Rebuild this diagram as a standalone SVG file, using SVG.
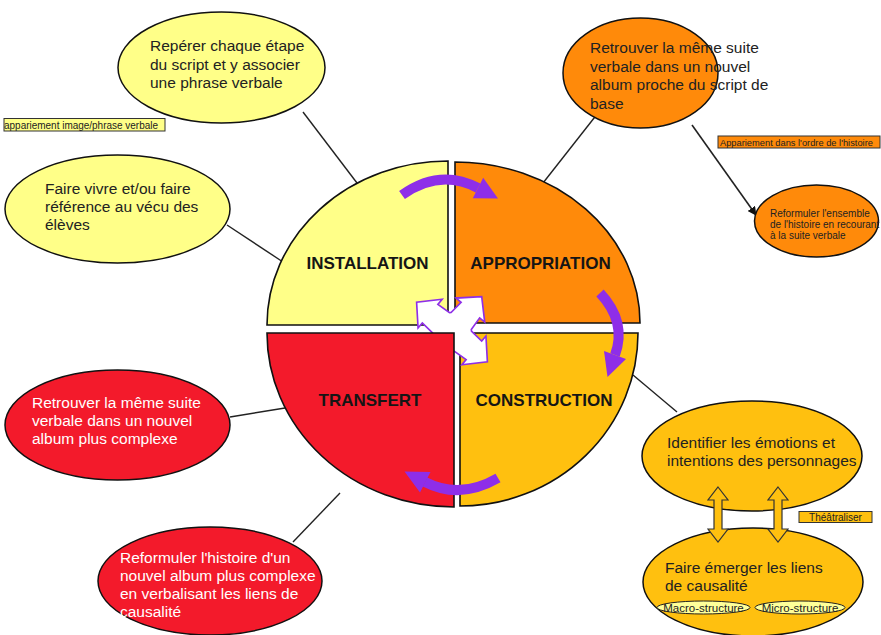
<svg xmlns="http://www.w3.org/2000/svg" width="881" height="635" viewBox="0 0 881 635">
<defs>
<style>
text{font-family:"Liberation Sans",Arial,sans-serif}
.q{stroke:#111;stroke-width:1.6}
.el{stroke:#111;stroke-width:1.5}
.yl{fill:#ffff88}
.or{fill:#ff8a0a}
.rd{fill:#f31a2b}
.ye{fill:#ffc00f}
.t{font-size:15.5px;fill:#222}
.tw{font-size:15.5px;fill:#fff}
.ql{font-size:17px;font-weight:bold;fill:#151515;text-anchor:middle}
.sm{font-size:10px;fill:#222}
.con{stroke:#222;stroke-width:1.4;fill:none}
.pa{stroke:#8e2ee8;stroke-width:10;fill:none}
.ph{fill:#8e2ee8}
</style>
<marker id="ah" viewBox="0 0 10 10" refX="9" refY="5" markerWidth="9" markerHeight="9" markerUnits="userSpaceOnUse" orient="auto">
<path d="M0,0 L10,5 L0,10 Z" fill="#111"/>
</marker>
</defs>
<rect width="881" height="635" fill="#fff"/>

<g id="connectors">
<line class="con" x1="303" y1="112" x2="357" y2="183"/>
<line class="con" x1="227" y1="225" x2="283" y2="262"/>
<line class="con" x1="598" y1="113" x2="543" y2="183"/>
<line class="con" x1="692" y1="125" x2="756" y2="215" marker-end="url(#ah)" style="stroke-width:1.6"/>
<line class="con" x1="633" y1="375" x2="677" y2="412"/>
<line class="con" x1="230" y1="417" x2="285" y2="408"/>
<line class="con" x1="293" y1="542" x2="340" y2="493"/>
</g>

<g id="installation">
<path class="q yl" d="M448,325 L267,325 A181,164 0 0 1 448,161 Z"/>
<text class="ql" x="367.5" y="269">INSTALLATION</text>
</g>
<g id="appropriation">
<path class="q or" d="M455,323 L455,162 A185,161 0 0 1 640,323 Z"/>
<text class="ql" x="540.5" y="269">APPROPRIATION</text>
</g>
<g id="construction">
<path class="q ye" d="M460,333 L638,333 A178,173 0 0 1 460,506 Z"/>
<text class="ql" x="544" y="406">CONSTRUCTION</text>
</g>
<g id="center-arrows">
<path transform="translate(452,332) rotate(40) scale(1.1)" fill="#fff" stroke="#8e2ee8" stroke-width="1.5" d="M13,-12 L26,-11 L26,-17 L42,0 L26,17 L26,11 L13,12 L12,13 L11,26 L17,26 L0,42 L-17,26 L-11,26 L-12,13 L-13,12 L-26,11 L-26,17 L-42,0 L-26,-17 L-26,-11 L-13,-12 L-12,-13 L-11,-26 L-17,-26 L0,-42 L17,-26 L11,-26 L12,-13 Z"/>
</g>
<g id="transfert">
<path class="q rd" d="M454,333 L454,507 A187,174 0 0 1 267,333 Z"/>
<text class="ql" x="370" y="406">TRANSFERT</text>
</g>

<g id="cycle-arrows">
<path class="pa" d="M402,195 Q440,168 478,188"/>
<polygon class="ph" points="472.8,198.2 483.2,177.8 498,198.5"/>
<path class="pa" d="M600,293 Q627,322 615,355"/>
<polygon class="ph" points="626,359 604,351 607.5,377"/>
<path class="pa" d="M498,478 Q460,500 425,482"/>
<polygon class="ph" points="430.5,472 420,492.5 404.5,471.5"/>
</g>

<g id="reperer">
<ellipse class="el yl" cx="221.5" cy="67.5" rx="103.5" ry="55.5"/>
<text class="t" x="150" y="51">Repérer chaque étape</text>
<text class="t" x="150" y="69.5">du script et y associer</text>
<text class="t" x="150" y="88">une phrase verbale</text>
</g>
<g id="label-appariement-image">
<rect x="4" y="118.5" width="161" height="12.5" fill="#ffff88" stroke="#333" stroke-width="1"/>
<text class="sm" x="4" y="128.5" textLength="154" lengthAdjust="spacingAndGlyphs">appariement image/phrase verbale</text>
</g>
<g id="faire-vivre">
<ellipse class="el yl" cx="117.5" cy="209" rx="112.5" ry="54"/>
<text class="t" x="45" y="193.5">Faire vivre et/ou faire</text>
<text class="t" x="45" y="211.5">référence au vécu des</text>
<text class="t" x="45" y="229.5">élèves</text>
</g>
<g id="retrouver-base">
<ellipse class="el or" cx="640.5" cy="73" rx="77.5" ry="55"/>
<text class="t" x="590" y="53">Retrouver la même suite</text>
<text class="t" x="590" y="71.5">verbale dans un nouvel</text>
<text class="t" x="590" y="90">album proche du script de</text>
<text class="t" x="590" y="108.5">base</text>
</g>
<g id="label-appariement-ordre">
<rect x="718" y="136" width="162" height="12" fill="#ff8a0a" stroke="#333" stroke-width="1"/>
<text x="720" y="145.5" font-size="9.3" fill="#222">Appariement dans l'ordre de l'histoire</text>
</g>
<g id="reformuler-ensemble">
<ellipse class="el or" cx="816.5" cy="221" rx="62" ry="36"/>
<text class="sm" x="770" y="217">Reformuler l'ensemble</text>
<text class="sm" x="770" y="228">de l'histoire en recourant</text>
<text class="sm" x="770" y="239">à la suite verbale</text>
</g>
<g id="identifier">
<ellipse class="el ye" cx="752" cy="456" rx="110" ry="55"/>
<text class="t" x="667" y="447.5">Identifier les émotions et</text>
<text class="t" x="667" y="465.5">intentions des personnages</text>
</g>
<g id="faire-emerger">
<ellipse class="el ye" cx="753" cy="582" rx="110" ry="54"/>
<text class="t" x="665" y="572.5">Faire émerger les liens</text>
<text class="t" x="665" y="590.5">de causalité</text>
<g id="macro">
<ellipse cx="703.5" cy="607.5" rx="46.5" ry="6.5" fill="#ffff99" stroke="#222" stroke-width="1"/>
<text x="703.5" y="611.5" font-size="11.5" fill="#222" text-anchor="middle">Macro-structure</text>
</g>
<g id="micro">
<ellipse cx="800" cy="607.5" rx="45" ry="6.5" fill="#ffff99" stroke="#222" stroke-width="1"/>
<text x="800" y="611.5" font-size="11.5" fill="#222" text-anchor="middle">Micro-structure</text>
</g>
</g>
<g id="double-arrows">
<path fill="#ffc00f" stroke="#333" stroke-width="1.2" d="M718,487 L728,500 L722,500 L722,529 L728,529 L718,542 L708,529 L714,529 L714,500 L708,500 Z"/>
<path fill="#ffc00f" stroke="#333" stroke-width="1.2" d="M778,487 L788,500 L782,500 L782,529 L788,529 L778,542 L768,529 L774,529 L774,500 L768,500 Z"/>
</g>
<g id="label-theatraliser">
<rect x="799" y="511.5" width="73" height="11" fill="#ffc00f" stroke="#333" stroke-width="1"/>
<text class="sm" x="835.5" y="520.5" text-anchor="middle">Théâtraliser</text>
</g>
<g id="retrouver-complexe">
<ellipse class="el rd" cx="117.5" cy="425" rx="112.5" ry="55"/>
<text class="tw" x="32" y="407.5">Retrouver la même suite</text>
<text class="tw" x="32" y="425.5">verbale dans un nouvel</text>
<text class="tw" x="32" y="443.5">album plus complexe</text>
</g>
<g id="reformuler-complexe">
<ellipse class="el rd" cx="210" cy="581" rx="112" ry="54"/>
<text class="tw" x="120" y="562.5">Reformuler l'histoire d'un</text>
<text class="tw" x="120" y="580.5">nouvel album plus complexe</text>
<text class="tw" x="120" y="598.5">en verbalisant les liens de</text>
<text class="tw" x="120" y="616.5">causalité</text>
</g>
</svg>
